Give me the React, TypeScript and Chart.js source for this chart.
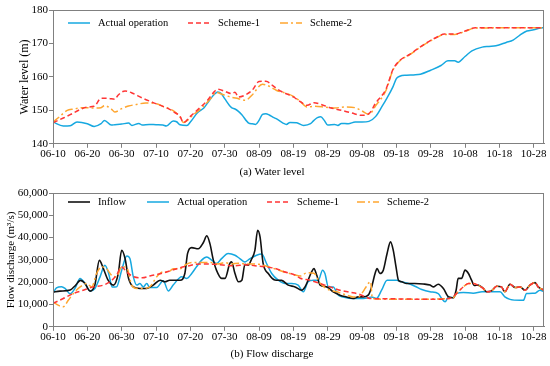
import React, { useEffect, useRef } from "react";
import { Chart, registerables } from "chart.js";
Chart.register(...registerables);

// ---------- shared axis ----------
const tickLabels = ["06-10", "06-20", "06-30", "07-10", "07-20", "07-30", "08-09", "08-19", "08-29", "09-08", "09-18", "09-28", "10-08", "10-18", "10-28"];
const lastDay = 143; // 06-10 .. 10-31

// ---------- (a) water level (m) ----------
const levelActualDays = [0, 3, 5, 7, 10, 12, 14, 15, 17, 18, 20, 22, 23, 25, 26, 28, 30, 32, 33, 35, 36, 37, 39, 40, 42, 44, 45, 47, 48, 49, 50, 52, 53, 54, 55, 57, 58, 59, 60, 61, 62, 63, 64, 65, 67, 68, 69, 71, 73, 75, 76, 77, 78, 79, 80, 82, 83, 84, 86, 88, 90, 92, 94, 96, 97, 99, 100, 101, 103, 105, 107, 110, 113, 115, 117, 118, 120, 122, 125, 127, 129, 132, 134, 136, 138, 140, 142, 143];
const levelActual = [146.5, 145.3, 145.4, 146.5, 146.0, 145.2, 146.0, 147.0, 145.6, 145.7, 145.9, 146.2, 145.5, 146.1, 145.6, 145.8, 145.7, 145.6, 145.3, 146.8, 146.6, 145.7, 145.5, 146.5, 149.2, 150.8, 152.2, 154.8, 155.5, 155.0, 153.5, 150.8, 150.4, 149.7, 148.7, 146.2, 146.0, 145.8, 147.0, 148.8, 149.0, 148.6, 148.0, 147.5, 146.2, 145.8, 146.4, 146.3, 145.5, 146.0, 147.0, 147.8, 148.1, 147.0, 145.6, 145.8, 145.5, 146.1, 146.0, 146.5, 146.5, 146.7, 148.2, 151.5, 153.2, 157.0, 159.5, 160.2, 160.5, 160.6, 160.8, 162.0, 163.4, 164.8, 164.8, 164.4, 166.1, 167.8, 168.9, 169.1, 169.3, 170.3, 171.0, 172.5, 173.7, 174.1, 174.6, 174.7];

const levelS1Days = [0, 3, 5, 8, 10, 12, 14, 16, 18, 19, 21, 22, 23, 26, 29, 32, 34, 35, 37, 38, 40, 43, 45, 47, 48, 50, 52, 53, 54, 56, 58, 60, 62, 64, 65, 67, 70, 72, 74, 76, 78, 81, 84, 87, 90, 92, 94, 97, 99, 101, 104, 107, 110, 112, 114, 117, 120, 123, 143];
const levelS1 = [146.3, 147.7, 148.7, 150.3, 151.0, 151.2, 153.6, 153.6, 153.3, 154.6, 155.8, 155.6, 155.2, 153.7, 152.4, 151.2, 150.3, 149.6, 148.2, 146.3, 148.2, 151.0, 153.0, 155.6, 156.3, 155.7, 155.0, 155.4, 154.0, 154.6, 156.0, 158.6, 158.7, 157.4, 156.6, 155.4, 154.0, 152.6, 151.5, 152.3, 151.8, 150.7, 150.0, 149.2, 148.5, 149.0, 152.2, 156.4, 162.2, 164.9, 166.8, 169.0, 170.9, 172.0, 172.8, 172.8, 173.7, 174.7, 174.7];

const levelS2Days = [0, 2, 4, 6, 9, 12, 14, 15, 17, 18, 20, 22, 24, 27, 30, 32, 35, 37, 38, 41, 43, 46, 47.5, 49, 52, 54, 56, 58, 61, 63, 64, 65, 68, 70, 72, 74, 76, 79, 82, 85, 88, 90, 92, 94, 97, 99, 101, 104, 107, 110, 112, 114, 117, 120, 123, 143];
const levelS2 = [146.5, 148.2, 149.9, 150.4, 150.8, 150.7, 150.8, 151.4, 150.4, 149.5, 150.5, 151.3, 151.7, 152.2, 152.0, 151.2, 149.9, 148.0, 146.4, 148.8, 150.4, 153.6, 155.4, 154.9, 153.9, 153.5, 153.0, 154.6, 157.8, 157.2, 156.6, 156.0, 155.1, 154.2, 152.7, 151.0, 151.2, 151.0, 150.7, 151.0, 150.8, 149.8, 148.8, 151.4, 156.0, 162.0, 164.8, 166.7, 168.9, 170.8, 171.9, 172.7, 172.7, 173.6, 174.6, 174.7];

// ---------- (b) flow discharge (m3/s) ----------
const inflowDays = [0, 2, 5, 6.5, 8, 9.3, 10.8, 12.2, 13.5, 14.7, 16, 17.6, 19, 20, 21, 22, 23.4, 25.3, 27.3, 29.2, 31.2, 32.6, 34, 37, 38.4, 39.2, 40.4, 42.3, 43.8, 44.8, 45.7, 46.7, 47.6, 49.1, 50.1, 51.5, 52, 53, 54, 55, 55.9, 56.9, 57.7, 58.8, 59.6, 60.3, 61.2, 62.7, 64.6, 66.6, 68.5, 70.5, 72.4, 73.4, 74.3, 75.3, 76, 76.8, 77.8, 79.7, 81.6, 83.6, 85.5, 87.4, 88.9, 90.4, 91.8, 92.8, 93.8, 94.4, 95.2, 96.2, 97.3, 98.3, 99.1, 99.9, 100.6, 101.5, 103, 105.4, 107.8, 109.8, 110.7, 112.2, 113.7, 115.2, 116.6, 117.4, 118, 119, 120, 121, 121.9, 122.7, 123.8, 125.3, 126.3, 127.7, 129.2, 130.6, 131.6, 133.1, 134.6, 136, 137.5, 138.9, 140.4, 141.3, 143];
const inflow = [15500, 16000, 16500, 18500, 20800, 19500, 16000, 18800, 29800, 26000, 21000, 18700, 23800, 34300, 30500, 21700, 17900, 17200, 17200, 18700, 20900, 20200, 20900, 20900, 23900, 32900, 35500, 35000, 37800, 40800, 37300, 29900, 25400, 21700, 21700, 28400, 29100, 23900, 20200, 20900, 28000, 27600, 29900, 34300, 43300, 40300, 28400, 23900, 21000, 20800, 18700, 17900, 16400, 17900, 20900, 24600, 26100, 23200, 18700, 17900, 15700, 14200, 13400, 12700, 13400, 13400, 14200, 17900, 23900, 26100, 23900, 25400, 32900, 38100, 34300, 26900, 20900, 20200, 19400, 19400, 19200, 18700, 17900, 19100, 17200, 13400, 13000, 16400, 21700, 21700, 25400, 23900, 20900, 18500, 18700, 17200, 15700, 16100, 18200, 17900, 15700, 19100, 17600, 17900, 16400, 18700, 19800, 17900, 16400];

const flowActualDays = [0, 1, 2.5, 3.5, 5, 6.4, 7.9, 9.3, 10.8, 12.2, 13.7, 15.1, 16.1, 17.3, 18.5, 20, 21.5, 22.4, 23.4, 24.4, 25.3, 26.3, 27.3, 28.2, 30.2, 32.1, 33.6, 35, 37.5, 39, 40.4, 41.8, 43.3, 44.8, 46.2, 47.6, 49.1, 51, 53, 54.4, 55.9, 57.4, 59.3, 60.8, 62.2, 63.7, 65.6, 67.6, 69.5, 71.4, 72.9, 74.3, 75.8, 77.3, 78.5, 79.2, 80.2, 81.6, 83.1, 84.5, 87.4, 90.4, 91.8, 92.8, 94.2, 95.7, 97.3, 100.1, 101.5, 103.5, 105.4, 107.4, 109.8, 112.2, 113.2, 114.2, 115.2, 116.6, 117.5, 119.5, 122.4, 125, 130.2, 131.6, 133.1, 136, 137, 137.9, 140.4, 141.8, 143];
const flowActual = [15000, 17500, 18000, 17200, 14800, 17200, 21700, 19400, 16100, 17200, 22400, 27600, 24500, 17800, 17900, 25400, 31800, 30600, 22400, 18700, 19400, 17900, 19400, 17600, 17600, 20600, 16100, 18700, 22400, 21700, 23900, 26900, 29900, 31300, 29900, 28400, 30600, 32900, 32100, 30600, 29100, 30600, 32100, 32600, 28400, 23900, 20900, 19400, 19400, 18700, 15700, 20200, 20900, 20900, 25400, 23900, 17900, 17900, 14200, 13400, 12700, 12700, 13000, 13400, 12700, 16400, 20900, 20900, 20200, 19400, 18200, 16700, 15700, 14900, 12700, 11200, 13400, 13000, 14900, 15400, 15100, 15700, 15700, 13400, 12300, 11900, 11900, 14900, 15100, 16400, 15700];

const flowS1Days = [0, 3, 5.9, 8.8, 11.7, 14.7, 16.6, 18.5, 20, 21.5, 23.4, 26, 28.2, 31.2, 34, 37, 40, 41.4, 44.3, 47.2, 50.1, 53, 55.9, 58.8, 61.7, 64.6, 67.6, 70.5, 72, 74.8, 77.8, 80.7, 83.6, 86.5, 89.4, 90.9, 92.3, 96, 105, 110, 114, 116, 117.5, 119.5, 121, 122.4, 123.8, 125.3, 126.3, 127.7, 129.2, 130.6, 131.6, 133.1, 134.6, 136, 137.5, 138.9, 140.4, 141.3, 143];
const flowS1 = [10500, 12700, 14900, 16400, 17900, 18700, 20200, 23200, 26800, 24500, 22500, 22000, 22800, 23800, 25000, 26500, 27500, 28000, 28200, 28000, 27600, 27400, 27800, 27400, 26900, 26200, 24600, 23200, 21800, 20900, 19400, 17900, 16400, 15500, 14500, 13400, 12700, 12600, 12400, 12300, 12500, 13000, 14900, 17900, 19400, 19400, 18700, 17200, 15700, 16100, 18200, 17900, 15700, 19100, 17600, 17900, 16400, 18700, 19800, 17900, 16400];

const flowS2Days = [0, 1.5, 3, 4.5, 5.9, 7.9, 9.8, 11.3, 12.7, 14.2, 15.6, 17, 18.5, 20, 21.5, 22.9, 24.4, 26.3, 28.2, 30.2, 32.1, 33.6, 35, 37, 38.4, 40.4, 43.3, 46, 48.1, 50.1, 52, 54, 56, 58, 60, 61.7, 63.6, 65.6, 67.6, 70, 72, 74, 76, 77.8, 80.7, 82.6, 85.5, 87.4, 88.9, 89.9, 90.9, 91.8, 92.5, 93, 96, 106.9, 114, 116.6, 117.5, 119.5, 121, 122.4, 123.8, 125.3, 126.3, 127.7, 129.2, 130.6, 131.6, 133.1, 134.6, 136, 137.5, 138.9, 140.4, 141.3, 143];
const flowS2 = [11200, 9700, 9000, 12000, 14900, 17900, 19400, 17900, 23900, 26900, 26100, 23200, 22400, 27000, 26500, 18700, 17200, 17200, 17900, 22400, 24600, 24600, 26000, 26000, 27600, 28800, 28800, 28800, 28200, 28800, 28200, 28500, 28200, 28200, 28000, 27400, 26500, 25500, 24500, 23500, 22800, 24200, 24000, 19500, 16400, 15700, 14200, 13400, 13400, 14900, 17200, 19400, 20200, 12700, 12400, 12300, 12600, 13000, 14900, 17900, 19400, 19400, 18700, 17200, 15700, 16100, 18200, 17900, 15700, 19100, 17600, 17900, 16400, 18700, 19800, 17900, 16400];

// ---------- styling ----------
const FONT = "'Liberation Serif', 'Times New Roman', Times, serif";
const BLUE = "#16a8e0";
const RED = "#ff3535";
const ORANGE = "#ffa630";
const BLACK = "#111111";
const FRAME = "#808080";

const pts = (xs: number[], ys: number[]) => xs.map((x, i) => ({ x, y: ys[i] }));

const frameLegend = {
  id: "frameLegend",
  afterDatasetsDraw(chart: any, _args: any, opts: any) {
    const { ctx, chartArea: a } = chart;
    ctx.save();
    ctx.strokeStyle = FRAME;
    ctx.lineWidth = 1;
    ctx.strokeRect(Math.round(a.left) + 0.5, Math.round(a.top) + 0.5, Math.round(a.right - a.left) - 1, Math.round(a.bottom - a.top) - 1);
    const items = opts.items || [];
    ctx.font = `10.5px ${FONT}`;
    ctx.textBaseline = "middle";
    items.forEach((it: any) => {
      const ds = chart.data.datasets[it.ds];
      const x = a.left + it.dx;
      const y = opts.y;
      ctx.beginPath();
      ctx.setLineDash(ds.borderDash || []);
      ctx.strokeStyle = ds.borderColor;
      ctx.lineWidth = ds.borderWidth;
      ctx.moveTo(x, y);
      ctx.lineTo(x + 22, y);
      ctx.stroke();
      ctx.setLineDash([]);
      ctx.fillStyle = "#000";
      ctx.fillText(ds.label, x + 30, y + 0.5);
    });
    ctx.restore();
  },
};

function line(label: string, data: any[], color: string, dash: number[], width: number, order: number) {
  return {
    label,
    data,
    order,
    borderColor: color,
    backgroundColor: color,
    borderWidth: width,
    borderDash: dash,
    pointRadius: 0,
    fill: false,
    cubicInterpolationMode: "monotone",
  };
}

function makeOptions(cfg: any) {
  return {
    responsive: false,
    animation: false,
    devicePixelRatio: 1,
    layout: { padding: { left: 0, right: 6, top: cfg.padTop, bottom: 0 } },
    plugins: {
      legend: { display: false },
      tooltip: { enabled: false },
      title: {
        display: true,
        position: "bottom",
        text: cfg.caption,
        color: "#000",
        font: { family: FONT, size: 11, weight: "normal" },
        padding: cfg.titlePad,
      },
      frameLegend: { y: cfg.legendY, items: cfg.legendItems },
    },
    scales: {
      x: {
        type: "linear",
        min: 0,
        max: lastDay,
        afterFit: (s: any) => { s.height = 15; },
        grid: { display: true, drawOnChartArea: false, drawTicks: true, tickLength: 4, color: FRAME },
        border: { display: true, color: FRAME },
        ticks: {
          stepSize: 10,
          includeBounds: false,
          autoSkip: false,
          maxRotation: 0,
          padding: 0,
          color: "#000",
          font: { family: FONT, size: 11 },
          callback: (v: number) => tickLabels[Math.round(v / 10)] ?? "",
        },
      },
      y: {
        min: cfg.yMin,
        max: cfg.yMax,
        afterFit: (s: any) => { s.width = 53; },
        grid: { display: true, drawOnChartArea: false, drawTicks: true, tickLength: 4, color: FRAME },
        border: { display: true, color: FRAME },
        title: {
          display: true,
          text: cfg.yTitle,
          color: "#000",
          font: { family: FONT, size: cfg.yTitleSize },
          padding: { top: cfg.yTitlePad, bottom: 0 },
        },
        ticks: {
          stepSize: cfg.yStep,
          padding: 1,
          color: "#000",
          font: { family: FONT, size: 11 },
          callback: (v: number) => Number(v).toLocaleString("en-US"),
        },
      },
    },
  };
}

export default function App() {
  const topRef = useRef<HTMLCanvasElement>(null);
  const botRef = useRef<HTMLCanvasElement>(null);

  useEffect(() => {
    const top = new Chart(topRef.current as HTMLCanvasElement, {
      type: "line",
      data: {
        datasets: [
          line("Actual operation", pts(levelActualDays, levelActual), BLUE, [], 1.5, 2),
          line("Scheme-1", pts(levelS1Days, levelS1), RED, [5, 3], 1.5, 0),
          line("Scheme-2", pts(levelS2Days, levelS2), ORANGE, [8, 3, 2, 3], 1.5, 1),
        ],
      },
      options: makeOptions({
        padTop: 10,
        caption: "(a) Water level",
        titlePad: { top: 7, bottom: 1 },
        legendY: 23,
        legendItems: [{ ds: 0, dx: 15 }, { ds: 1, dx: 135 }, { ds: 2, dx: 227 }],
        yMin: 140,
        yMax: 180,
        yStep: 10,
        yTitle: "Water level (m)",
        yTitleSize: 12,
        yTitlePad: 18,
      }) as any,
      plugins: [frameLegend],
    } as any);

    const bot = new Chart(botRef.current as HTMLCanvasElement, {
      type: "line",
      data: {
        datasets: [
          line("Inflow", pts(inflowDays, inflow), BLACK, [], 1.6, 2),
          line("Actual operation", pts(flowActualDays, flowActual), BLUE, [], 1.5, 3),
          line("Scheme-1", pts(flowS1Days, flowS1), RED, [5, 3], 1.5, 0),
          line("Scheme-2", pts(flowS2Days, flowS2), ORANGE, [8, 3, 2, 3], 1.5, 1),
        ],
      },
      options: makeOptions({
        padTop: 13,
        caption: "(b) Flow discharge",
        titlePad: { top: 6, bottom: 5 },
        legendY: 22,
        legendItems: [{ ds: 0, dx: 15 }, { ds: 1, dx: 94 }, { ds: 2, dx: 214 }, { ds: 3, dx: 304 }],
        yMin: 0,
        yMax: 60000,
        yStep: 10000,
        yTitle: "Flow discharge (m\u00B3/s)",
        yTitleSize: 11,
        yTitlePad: 5,
      }) as any,
      plugins: [frameLegend],
    } as any);

    return () => {
      top.destroy();
      bot.destroy();
    };
  }, []);

  return (
    <div style={{ position: "fixed", left: 0, top: 0, width: 550, height: 366, background: "#fff" }}>
      <canvas ref={topRef} width={550} height={180} style={{ position: "absolute", left: 0, top: 0, width: 550, height: 180 }} />
      <canvas ref={botRef} width={550} height={186} style={{ position: "absolute", left: 0, top: 180, width: 550, height: 186 }} />
    </div>
  );
}
